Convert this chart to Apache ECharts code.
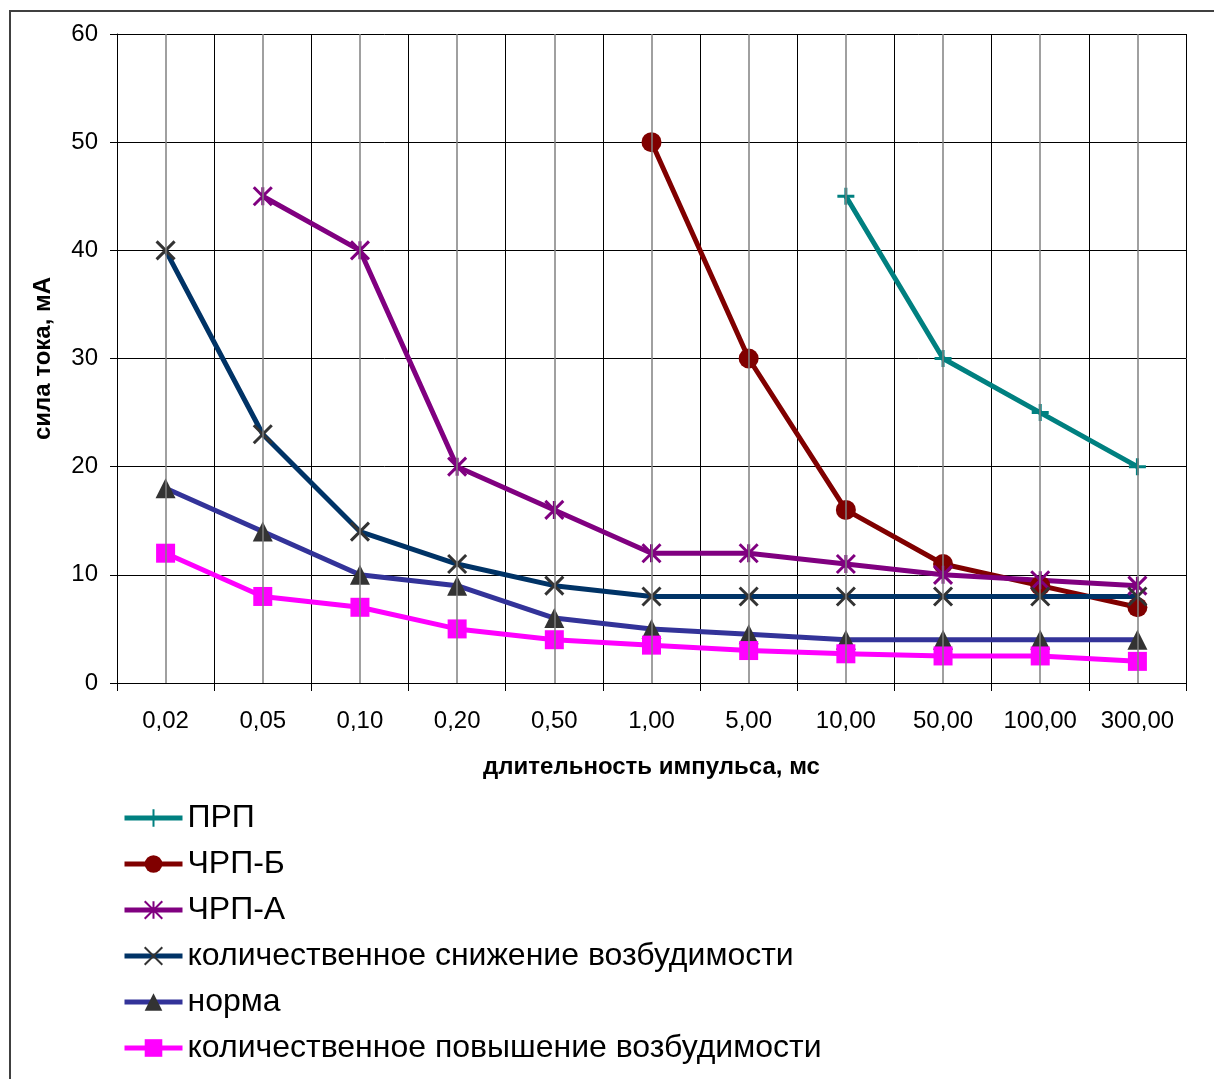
<!DOCTYPE html>
<html><head><meta charset="utf-8">
<script src="https://cdn.jsdelivr.net/npm/echarts@6/dist/echarts.min.js"></script>
<style>html,body{margin:0;padding:0;background:#fff}#c{width:1214px;height:1079px}</style>
</head><body><div id="c"></div>
<script>
var categories = ['0,02','0,05','0,10','0,20','0,50','1,00','5,00','10,00','50,00','100,00','300,00'];
var yTicks = [0,10,20,30,40,50,60];
var prp    = [null,null,null,null,null,null,null,45,30,25,20];
var chrpB  = [null,null,null,null,null,50,30,16,11,9,7];
var chrpA  = [null,45,40,20,16,12,12,11,10,9.5,9];
var snizh  = [40,23,14,11,9,8,8,8,8,8,8];
var norma  = [18,14,10,9,6,5,4.5,4,4,4,4];
var povysh = [12,8,7,5,4,3.5,3,2.7,2.5,2.5,2];
var names = ['ПРП','ЧРП-Б','ЧРП-А','количественное снижение возбудимости','норма','количественное повышение возбудимости'];

var FF = '"Liberation Sans", Arial, sans-serif';
function S(name, data, lineColor, symbol, size, symColor, stroke) {
  return {
    name: name, type: 'line', data: data, connectNulls: false,
    symbol: symbol, symbolSize: size, showAllSymbol: true,
    lineStyle: {color: lineColor, width: 5},
    itemStyle: stroke ? {color: 'rgba(0,0,0,0)', borderColor: symColor, borderWidth: 3} : {color: symColor, borderWidth: 0},
    emphasis: {disabled: true}, animation: false
  };
}
var series = [
  S(names[0], prp, '#008080', 'path://M5,0L5,10M0,5L10,5', 17, '#008080', true),
  S(names[1], chrpB, '#800000', 'circle', 20, '#800000', false),
  S(names[2], chrpA, '#800080', 'path://M0,0L10,10M10,0L0,10M5,0L5,10', 18, '#800080', true),
  S(names[3], snizh, '#003366', 'path://M0,0L10,10M10,0L0,10', 18, '#333333', true),
  S(names[4], norma, '#333399', 'triangle', 20, '#333333', false),
  S(names[5], povysh, '#FF00FF', 'rect', 19, '#FF00FF', false)
];
series[0].markLine = {
  silent: true, symbol: 'none', label: {show: false},
  lineStyle: {color: '#808080', width: 1.5, type: 'solid'},
  data: categories.map(function(c){ return {xAxis: c}; }),
  animation: false
};

var chart = echarts.init(document.getElementById('c'), null, {renderer: 'canvas'});
chart.setOption({
  backgroundColor: '#fff',
  animation: false,
  textStyle: {fontFamily: FF},
  graphic: [{type: 'rect', shape: {x: 10, y: 11, width: 1220, height: 1090}, style: {fill: 'none', stroke: '#404040', lineWidth: 2}, silent: true}],
  grid: {left: 117, right: 28, top: 34, bottom: 396, containLabel: false},
  legend: {
    orient: 'vertical', left: 117, top: 802, height: 300, padding: [0,0,0,5],
    itemWidth: 58, itemHeight: 22, itemGap: 14,
    lineStyle: {width: 5},
    textStyle: {fontFamily: FF, fontSize: 32, lineHeight: 32, color: '#000', padding: [0,0,0,0]},
    data: names
  },
  xAxis: {
    type: 'category', data: categories, boundaryGap: true,
    axisLine: {show: true, lineStyle: {color: '#000', width: 1}},
    axisTick: {show: true, interval: 0, length: 8, lineStyle: {color: '#000'}},
    splitLine: {show: true, interval: 0, lineStyle: {color: '#000', width: 1}},
    axisLabel: {interval: 0, fontSize: 24, color: '#000', margin: 26, fontFamily: FF},
    name: 'длительность импульса, мс', nameLocation: 'middle', nameGap: 72,
    nameTextStyle: {fontSize: 24, fontWeight: 'bold', color: '#000', fontFamily: FF}
  },
  yAxis: {
    type: 'value', min: 0, max: 60, interval: 10,
    axisLine: {show: true, lineStyle: {color: '#000', width: 1}},
    axisTick: {show: true, length: 7, lineStyle: {color: '#000'}},
    splitLine: {show: true, lineStyle: {color: '#000', width: 1}},
    axisLabel: {fontSize: 24, color: '#000', margin: 19, fontFamily: FF,
      formatter: function(v){ return yTicks.indexOf(v) >= 0 ? String(v) : ''; }},
    name: 'сила тока, мА', nameLocation: 'middle', nameGap: 62, nameRotate: 90,
    nameTextStyle: {fontSize: 24, fontWeight: 'bold', color: '#000', fontFamily: FF}
  },
  series: series
});
</script></body></html>
